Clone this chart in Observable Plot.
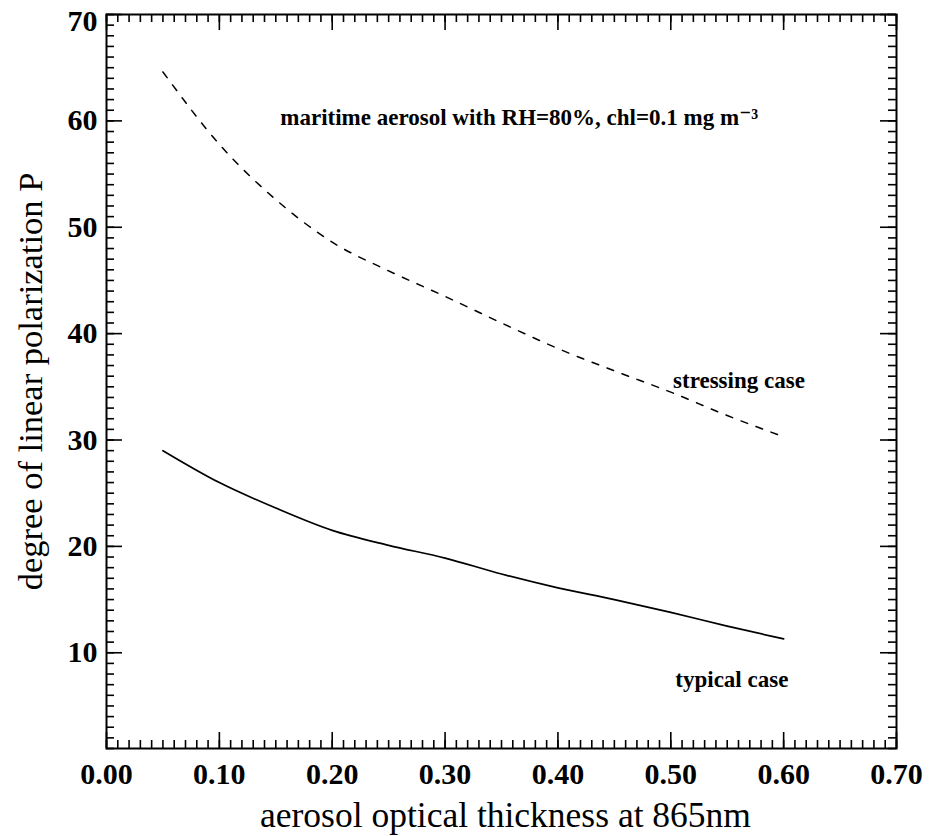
<!DOCTYPE html>
<html>
<head>
<meta charset="utf-8">
<script src="https://cdn.jsdelivr.net/npm/d3@7"></script>
<script src="https://cdn.jsdelivr.net/npm/@observablehq/plot@0.6"></script>
<style>
  body { margin: 0; background: #fff; }
  #chart svg { display: block; }
</style>
</head>
<body>
<div id="chart"></div>
<script>
// ---- data ----
const aot = [0.05, 0.10, 0.15, 0.20, 0.25, 0.30, 0.35, 0.40, 0.45, 0.50, 0.55, 0.60];
const stressingCase = [64.6, 57.8, 52.6, 48.6, 45.9, 43.5, 41.0, 38.6, 36.5, 34.5, 32.3, 30.3];
const typicalCase   = [29.0, 26.0, 23.6, 21.5, 20.1, 18.9, 17.4, 16.1, 15.0, 13.8, 12.5, 11.3];

const xTickValues = [0.0, 0.1, 0.2, 0.3, 0.4, 0.5, 0.6, 0.7];
const yTickValues = [10, 20, 30, 40, 50, 60, 70];
const xMinorTicks = d3.range(0, 71).map(i => i / 100);
const yMinorTicks = d3.range(1, 71);

const annotationTexts = ["maritime aerosol with RH=80%, chl=0.1 mg m\u207B\u00B3", "stressing case", "typical case"];
const annotationX = [0.154, 0.502, 0.504];
const annotationY = [60.3, 35.6, 7.5];

const xLabel = "aerosol optical thickness at 865nm";
const yLabel = "degree of linear polarization P";

// ---- tables ----
const stressing = aot.map((x, i) => ({x, y: stressingCase[i]}));
const typical = aot.map((x, i) => ({x, y: typicalCase[i]}));
const annotations = annotationTexts.map((t, i) => ({t, x: annotationX[i], y: annotationY[i]}));
const yTop = yTickValues[yTickValues.length - 1];

// ---- layout ----
const width = 930, height = 836;
const mL = 106, mR = 34, mT = 14, mB = 88;
const W = width - mL - mR, H = height - mT - mB;
const minor = 8, major = 16;
const font = "'Liberation Serif', 'Times New Roman', Times, 'DejaVu Serif', serif";
const tickStyle = {stroke: "black", strokeWidth: 1.6};
const yAxisStyle = {tickFormat: d => String(d), tickSize: 0, tickPadding: 9,
  fontSize: 30, fontWeight: "bold", fontFamily: font, label: null};

const chart = Plot.plot({
  width, height,
  marginLeft: mL, marginRight: mR, marginTop: mT, marginBottom: mB,
  style: {fontFamily: font, color: "black", background: "white"},
  x: {domain: [0, 0.7]},
  y: {domain: [1, 70]},
  marks: [
    // inward minor ticks on all four sides
    Plot.tickY(yMinorTicks, {y: d => d, insetRight: W - minor, ...tickStyle}),
    Plot.tickY(yMinorTicks, {y: d => d, insetLeft: W - minor, ...tickStyle}),
    Plot.tickX(xMinorTicks, {x: d => d, insetTop: H - minor, ...tickStyle}),
    Plot.tickX(xMinorTicks, {x: d => d, insetBottom: H - minor, ...tickStyle}),
    // inward major ticks
    Plot.tickY(yTickValues, {y: d => d, insetRight: W - major, ...tickStyle}),
    Plot.tickY(yTickValues, {y: d => d, insetLeft: W - major, ...tickStyle}),
    Plot.tickX(xTickValues, {x: d => d, insetTop: H - major, ...tickStyle}),
    Plot.tickX(xTickValues, {x: d => d, insetBottom: H - major, ...tickStyle}),
    Plot.frame({stroke: "black", strokeWidth: 2}),
    // tick labels
    Plot.axisX({ticks: xTickValues, tickFormat: d3.format(".2f"), tickSize: 0, tickPadding: 14,
      fontSize: 30, fontWeight: "bold", fontFamily: font, label: null}),
    Plot.axisY({ticks: yTickValues.filter(v => v !== yTop), ...yAxisStyle}),
    Plot.axisY({ticks: [yTop], dy: 7, ...yAxisStyle}),
    // axis titles
    Plot.text([xLabel], {text: d => d, frameAnchor: "bottom", textAnchor: "middle", lineAnchor: "middle",
      dy: 67, dx: 4, fontSize: 35.5, fontFamily: font, fill: "black"}),
    Plot.text([yLabel], {text: d => d, frameAnchor: "left", textAnchor: "middle", lineAnchor: "middle",
      rotate: -90, dx: -76, fontSize: 34.5, fontFamily: font, fill: "black"}),
    // data curves
    Plot.line(stressing, {x: "x", y: "y", stroke: "black", strokeWidth: 1.5, strokeDasharray: "7,9", curve: "monotone-x"}),
    Plot.line(typical, {x: "x", y: "y", stroke: "black", strokeWidth: 1.7, curve: "monotone-x"}),
    // annotations
    Plot.text(annotations, {x: "x", y: "y", text: "t", textAnchor: "start", fontSize: 23, fontWeight: "bold", fontFamily: font, fill: "black"})
  ]
});
document.getElementById("chart").appendChild(chart);
</script>
</body>
</html>
